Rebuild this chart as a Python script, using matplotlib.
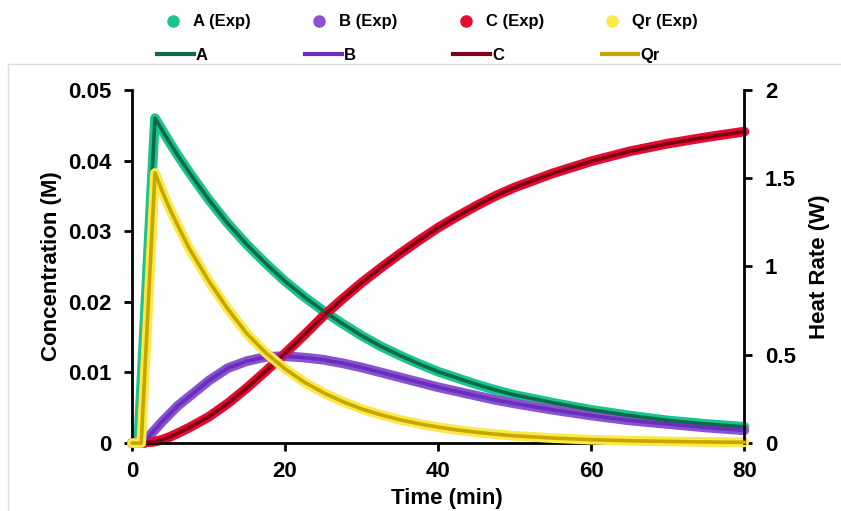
import matplotlib
matplotlib.use("Agg")
import matplotlib.pyplot as plt
from matplotlib.lines import Line2D

plt.rcParams['font.family'] = ['Liberation Sans', 'DejaVu Sans']
plt.rcParams['font.weight'] = 'bold'

# values
time_a = [0, 0.8, 3, 4, 5, 6, 7.5, 10, 12.5, 15, 17.5, 20, 22.5, 25, 27.5, 30,
          32.5, 35, 37.5, 40, 42.5, 45, 47.5, 50, 55, 60, 65, 70, 75, 80]
conc_a = [0, 0, 0.0460, 0.0442, 0.0424, 0.0407, 0.0383, 0.0345, 0.0311, 0.0281,
          0.0254, 0.0229, 0.0207, 0.0187, 0.0169, 0.0152, 0.0137, 0.0124,
          0.0112, 0.0101, 0.0092, 0.0083, 0.0075, 0.0068, 0.0057, 0.0047,
          0.0039, 0.0032, 0.0027, 0.0023]

time_bc = [0, 1.5, 2, 3, 4, 5, 6, 7.5, 10, 12.5, 15, 17.5, 20, 22.5, 25, 27.5,
           30, 32.5, 35, 37.5, 40, 42.5, 45, 47.5, 50, 55, 60, 65, 70, 75, 80]
conc_b = [0, 0, 0.0007, 0.0019, 0.0031, 0.0042, 0.0053, 0.0066, 0.0088, 0.0106,
          0.0116, 0.0122, 0.0123, 0.0121, 0.0118, 0.0113, 0.0107, 0.0100,
          0.0093, 0.0086, 0.0079, 0.0073, 0.0067, 0.0061, 0.0056, 0.0047,
          0.0039, 0.0032, 0.0027, 0.0022, 0.0018]
conc_c = [0, 0, 0.0001, 0.0002, 0.0005, 0.0009, 0.0014, 0.0022, 0.0037, 0.0056,
          0.0078, 0.0102, 0.0127, 0.0153, 0.0180, 0.0204, 0.0227, 0.0248,
          0.0268, 0.0287, 0.0305, 0.0321, 0.0336, 0.0350, 0.0362, 0.0382,
          0.0399, 0.0413, 0.0424, 0.0433, 0.0441]

time_q = [0, 1.2, 3, 4, 5, 6, 7.5, 10, 12.5, 15, 17.5, 20, 22.5, 25, 27.5, 30,
          32.5, 35, 37.5, 40, 42.5, 45, 47.5, 50, 55, 60, 65, 70, 75, 80]
heat_q = [0, 0, 1.53, 1.42, 1.32, 1.23, 1.10, 0.92, 0.76, 0.62, 0.51, 0.42,
          0.345, 0.285, 0.235, 0.193, 0.160, 0.132, 0.109, 0.090, 0.074, 0.061,
          0.050, 0.041, 0.028, 0.019, 0.013, 0.009, 0.006, 0.004]

exp_colors = {'A': '#1cc38e', 'B': '#8753cf', 'C': '#e60b30', 'Qr': '#fbe84a'}
fit_colors = {'A': '#0b6b47', 'B': '#6a2dbd', 'C': '#7d0014', 'Qr': '#c8a600'}

fig = plt.figure(figsize=(8.41, 5.11), dpi=100)
ax = fig.add_axes([0.157, 0.133, 0.728, 0.691])
ax2 = ax.twinx()

exp_lw = 7
fit_lw = 2.6

# concentration curves
for t, y, key in [(time_a, conc_a, 'A'), (time_bc, conc_b, 'B'), (time_bc, conc_c, 'C')]:
    ax.plot(t, y, color=exp_colors[key], lw=exp_lw, solid_capstyle='round',
            solid_joinstyle='round', clip_on=False, zorder=2)
    ax.plot(t, y, color=fit_colors[key], lw=fit_lw, solid_capstyle='round',
            solid_joinstyle='round', clip_on=False, zorder=3)

# heat rate on right axis
ax2.plot(time_q, heat_q, color=exp_colors['Qr'], lw=exp_lw, solid_capstyle='round',
         solid_joinstyle='round', clip_on=False, zorder=2)
ax2.plot(time_q, heat_q, color=fit_colors['Qr'], lw=fit_lw, solid_capstyle='round',
         solid_joinstyle='round', clip_on=False, zorder=3)

ax.set_xlim(0, 80)
ax.set_ylim(0, 0.05)
ax2.set_ylim(0, 2)
ax.set_xticks([0, 20, 40, 60, 80])
ax.set_yticks([0, 0.01, 0.02, 0.03, 0.04, 0.05])
ax.set_yticklabels(['0', '0.01', '0.02', '0.03', '0.04', '0.05'])
ax2.set_yticks([0, 0.5, 1, 1.5, 2])
ax2.set_yticklabels(['0', '0.5', '1', '1.5', '2'])

for a in (ax, ax2):
    a.spines['top'].set_visible(False)
    for s in ('left', 'right', 'bottom'):
        a.spines[s].set_linewidth(2)
    a.tick_params(width=2, length=6, labelsize=16, direction='out', pad=9)
ax.tick_params(axis='x', pad=7)
ax.spines['right'].set_visible(False)
ax2.spines['left'].set_visible(False)
ax2.spines['bottom'].set_visible(False)

ax.set_xlabel('Time (min)', fontsize=16, fontweight='bold')
ax.xaxis.set_label_coords(0.515, -0.128)
ax.set_ylabel('Concentration (M)', fontsize=16, fontweight='bold', labelpad=4)
ax2.set_ylabel('Heat Rate (W)', fontsize=16, fontweight='bold', labelpad=9)

# legends
names = ['A', 'B', 'C', 'Qr']
exp_handles = [Line2D([], [], ls='none', marker='o', ms=8, color=exp_colors[k]) for k in names]
fit_handles = [Line2D([], [], lw=3, color=fit_colors[k]) for k in names]
leg1 = fig.legend(exp_handles, [k + ' (Exp)' for k in names], ncol=4, frameon=False,
                  loc='center', bbox_to_anchor=(0.512, 0.957), fontsize=12,
                  handlelength=1.2, handletextpad=0.6, columnspacing=3.5)
leg2 = fig.legend(fit_handles, names, ncol=4, frameon=False,
                  loc='center left', bbox_to_anchor=(0.169, 0.892), fontsize=12,
                  handlelength=2.2, handletextpad=0.12, columnspacing=5.85)

# faint chart-area border
fig.add_artist(Line2D([0.0095, 1.0], [0.875, 0.875], color='#dcdcdc', lw=1))
fig.add_artist(Line2D([0.0095, 0.0095], [0.0, 0.875], color='#dcdcdc', lw=1))

fig.savefig('out.png', dpi=100)
